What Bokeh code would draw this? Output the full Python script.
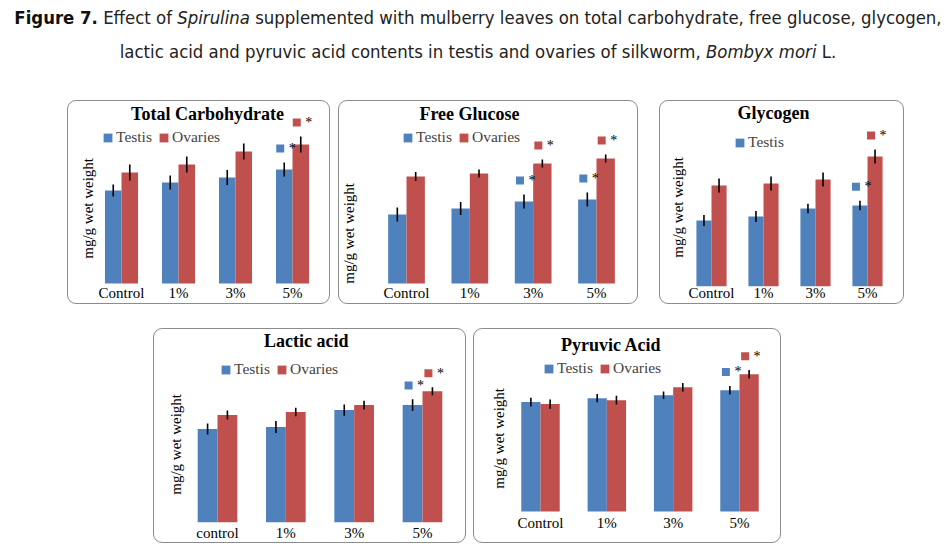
import numpy as np
from bokeh.plotting import figure
from bokeh.models import Range1d, FixedTicker, Label, Legend, LegendItem, Div, Spacer
from bokeh.layouts import column, row
from bokeh.core.properties import value
from bokeh.embed import file_html
from bokeh.resources import INLINE

# ---------------- data (arbitrary units) ----------------
CATS = ["Control", "1%", "3%", "5%"]
CATS_LA = ["control", "1%", "3%", "5%"]

TC_TESTIS = [93, 101, 106, 114]
TC_OVARIES = [111, 119, 132, 139]
TC_TESTIS_ERR = [6, 7, 7.5, 7]
TC_OVARIES_ERR = [8, 8, 8, 8]
TC_SIG_TESTIS = [False, False, False, True]
TC_SIG_OVARIES = [False, False, False, True]

FG_TESTIS = [69, 75, 82, 84]
FG_OVARIES = [107, 110, 120, 125]
FG_TESTIS_ERR = [7, 6.5, 7, 7]
FG_OVARIES_ERR = [4.5, 4, 4, 4]
FG_SIG_TESTIS = [False, False, True, True]
FG_SIG_OVARIES = [False, False, True, True]

GL_TESTIS = [66, 70, 78, 81]
GL_OVARIES = [101, 103, 107, 130]
GL_TESTIS_ERR = [5.5, 5.5, 4.7, 4.7]
GL_OVARIES_ERR = [7, 7, 7, 7]
GL_SIG_TESTIS = [False, False, False, True]
GL_SIG_OVARIES = [False, False, False, True]

LA_TESTIS = [94, 96, 113, 118]
LA_OVARIES = [108, 111, 118, 132]
LA_TESTIS_ERR = [5.5, 6, 5.7, 5.8]
LA_OVARIES_ERR = [4.5, 4.3, 4.5, 4]
LA_SIG_TESTIS = [False, False, False, True]
LA_SIG_OVARIES = [False, False, False, True]

PA_TESTIS = [110, 114, 117, 122]
PA_OVARIES = [108, 112, 125, 138]
PA_TESTIS_ERR = [4.5, 4.2, 3.8, 4.3]
PA_OVARIES_ERR = [4.7, 4.5, 4.3, 4.2]
PA_SIG_TESTIS = [False, False, False, True]
PA_SIG_OVARIES = [False, False, False, True]

SERIES = ["Testis", "Ovaries"]
YLABEL = "mg/g  wet weight"

# ---------------- style ----------------
BLUE = "#4F81BD"
RED = "#C0504D"
SERIF = "Liberation Serif"
BAR_W = 0.29

# layout geometry in page pixels (box = x0, y0, W, H); fbot = frame bottom shared by a row
GEOM = {
    "TC": dict(box=(67, 100, 263, 204), fbot=286, g=(121, 292), base=283, title=(207, 113), legend=(103, 137), ylab=(87, 206), tick_y=293),
    "FG": dict(box=(338, 100, 300, 204), fbot=286, g=(406, 596), base=283, title=(469, 113), legend=(403, 137), ylab=(348, 231), tick_y=293),
    "GL": dict(box=(659, 100, 245, 204), fbot=286, g=(711, 867), base=286, title=(773, 112), legend=(735, 142), ylab=(677, 205), tick_y=293),
    "LA": dict(box=(153, 328, 313, 215), fbot=523, g=(217, 422), base=523, title=(308, 341), legend=(221, 370), ylab=(175, 443), tick_y=533),
    "PA": dict(box=(473, 328, 308, 215), fbot=523, g=(540, 739), base=512, title=(613, 345), legend=(544, 369), ylab=(498, 437), tick_y=524),
}


def make_panel(title, cats, testis, ovaries, et, eo, sig_t, sig_o, geom, legend_series):
    x0, y0, W, H = geom["box"]
    fl, fr = x0 + 1, x0 + W - 1
    ft = y0 + 1
    fbot = geom["fbot"]
    yb = geom["base"]
    g0, g3 = geom["g"]
    n = len(cats)
    s = (g3 - g0) / (n - 1)
    xr = Range1d(-(g0 - fl) / s, (n - 1) + (fr - g3) / s)
    yr = Range1d(-(fbot - yb), yb - ft)
    p = figure(width=W, height=H, x_range=xr, y_range=yr,
               output_backend="svg", toolbar_location=None,
               min_border_left=1, min_border_right=1, min_border_top=1,
               min_border_bottom=y0 + H - fbot,
               styles={"outline": "1px solid #8c8c8c", "outline-offset": "-1px",
                       "border-radius": "9px"})
    p.outline_line_color = None
    p.grid.visible = False
    p.yaxis.visible = False
    p.background_fill_alpha = 0
    p.border_fill_alpha = 0
    ax = p.xaxis[0]
    idx = list(range(n))
    ax.ticker = FixedTicker(ticks=idx)
    ax.major_label_overrides = {i: c for i, c in enumerate(cats)}
    ax.axis_line_color = None
    ax.major_tick_line_color = None
    ax.minor_tick_line_color = None
    ax.major_tick_out = 0
    ax.major_tick_in = 0
    ax.major_label_standoff = int(round(geom["tick_y"] - fbot - 8.5))
    ax.major_label_text_font = SERIF
    ax.major_label_text_font_size = "15px"
    ax.major_label_text_color = "black"

    xt = [i - BAR_W / 2 for i in idx]
    xo = [i + BAR_W / 2 for i in idx]
    rt = p.vbar(x=xt, top=testis, width=BAR_W, fill_color=BLUE, line_color=None)
    ro = p.vbar(x=xo, top=ovaries, width=BAR_W, fill_color=RED, line_color=None)
    p.segment(x0=xt, y0=[v - e for v, e in zip(testis, et)], x1=xt, y1=[v + e for v, e in zip(testis, et)],
              line_color="black", line_width=1.6)
    p.segment(x0=xo, y0=[v - e for v, e in zip(ovaries, eo)], x1=xo, y1=[v + e for v, e in zip(ovaries, eo)],
              line_color="black", line_width=1.6)

    # significance marks (legend key + asterisk) above bars
    for xs, vals, errs, sig, col in ((xt, testis, et, sig_t, BLUE), (xo, ovaries, eo, sig_o, RED)):
        sx = [x for x, f in zip(xs, sig) if f]
        sy = [v + e + 14 for v, e, f in zip(vals, errs, sig) if f]
        if sx:
            p.scatter(x=[x - 4 / s for x in sx], y=sy, marker="square", size=8,
                      fill_color=col, line_color=None)
            p.text(x=[x + 8 / s for x in sx], y=sy, text=["*"] * len(sx),
                   text_font=value(SERIF), text_font_size="14px",
                   text_align="center", text_baseline="middle", text_color="black")

    tx, ty = geom["title"]
    p.add_layout(Label(x=tx - fl, y=fbot - ty, x_units="screen", y_units="screen", text=title,
                       text_font=SERIF, text_font_style="bold", text_font_size="18px",
                       text_align="center", text_baseline="middle", text_color="black"))
    lx, ly = geom["ylab"]
    p.add_layout(Label(x=lx - fl, y=fbot - ly, x_units="screen", y_units="screen", text=YLABEL,
                       angle=np.pi / 2, text_font=SERIF, text_font_size="15px",
                       text_align="center", text_baseline="middle", text_color="black"))

    rends = {"Testis": rt, "Ovaries": ro}
    items = [LegendItem(label=sname, renderers=[rends[sname]]) for sname in legend_series]
    gx, gy = geom["legend"]
    leg = Legend(items=items, location=(gx - 1 - fl, fbot - gy - 9), orientation="horizontal",
                 glyph_width=11, glyph_height=11, label_standoff=3, spacing=6,
                 padding=0, margin=0, border_line_color=None, background_fill_alpha=0,
                 label_text_font=SERIF, label_text_font_size="15.5px", label_height=11)
    p.add_layout(leg)
    return p


p1 = make_panel("Total Carbohydrate", CATS, TC_TESTIS, TC_OVARIES, TC_TESTIS_ERR, TC_OVARIES_ERR,
                TC_SIG_TESTIS, TC_SIG_OVARIES, GEOM["TC"], SERIES)
p2 = make_panel("Free Glucose", CATS, FG_TESTIS, FG_OVARIES, FG_TESTIS_ERR, FG_OVARIES_ERR,
                FG_SIG_TESTIS, FG_SIG_OVARIES, GEOM["FG"], SERIES)
p3 = make_panel("Glycogen", CATS, GL_TESTIS, GL_OVARIES, GL_TESTIS_ERR, GL_OVARIES_ERR,
                GL_SIG_TESTIS, GL_SIG_OVARIES, GEOM["GL"], SERIES[:1])
p4 = make_panel("Lactic  acid", CATS_LA, LA_TESTIS, LA_OVARIES, LA_TESTIS_ERR, LA_OVARIES_ERR,
                LA_SIG_TESTIS, LA_SIG_OVARIES, GEOM["LA"], SERIES)
p5 = make_panel("Pyruvic  Acid", CATS, PA_TESTIS, PA_OVARIES, PA_TESTIS_ERR, PA_OVARIES_ERR,
                PA_SIG_TESTIS, PA_SIG_OVARIES, GEOM["PA"], SERIES)

caption = Div(width=944, height=100, margin=(0, 0, 0, 0), text=(
    '<div style="position:relative;top:1px;left:6px;width:944px;white-space:nowrap;'
    'font-family:\'DejaVu Sans Condensed\',\'DejaVu Sans\',sans-serif;'
    'font-size:18.4px;line-height:34px;text-align:center;color:#222">'
    '<b style="color:#111">Figure 7.</b> Effect of <i>Spirulina</i> supplemented with mulberry leaves on total '
    'carbohydrate, free glucose, glycogen,<br>lactic acid and pyruvic acid contents in testis and ovaries of '
    'silkworm, <i>Bombyx mori</i> L.</div>'))

row1 = row(Spacer(width=67, height=204), p1, Spacer(width=8, height=204), p2,
           Spacer(width=21, height=204), p3)
row2 = row(Spacer(width=153, height=215), p4, Spacer(width=7, height=215), p5)
layout = column(caption, row1, Spacer(width=10, height=24), row2)

with open("out.html", "w") as f:
    f.write(file_html(layout, INLINE))
